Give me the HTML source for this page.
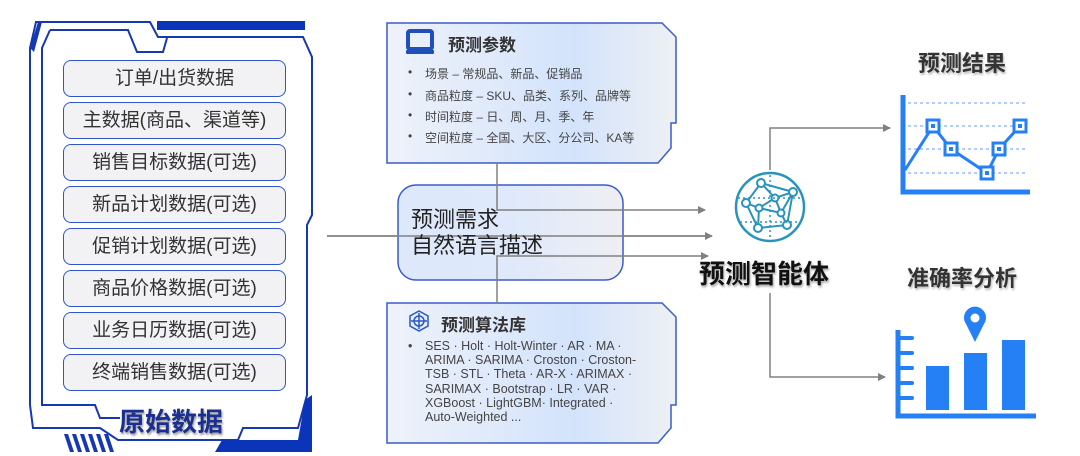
<!DOCTYPE html>
<html><head><meta charset="utf-8"><style>
body{margin:0;width:1080px;height:456px;background:#fff;position:relative;overflow:hidden;font-family:"Liberation Sans","Noto Sans CJK SC",sans-serif;}
.item{position:absolute;left:63px;width:221px;height:35px;border:1.5px solid #3155c8;border-radius:8px;background:#f2f2f4;text-align:center;line-height:35px;font-size:19px;color:#333;}
.abs{position:absolute;}
.bl{position:absolute;left:408px;font-size:12px;color:#444;}
.bl span{position:absolute;left:17px;white-space:nowrap;}
</style></head><body>
<svg class="abs" style="left:0;top:0" width="1080" height="456">
<defs>
<linearGradient id="g1" x1="0" x2="1" y1="0" y2="0"><stop offset="0" stop-color="#eef2fa"/><stop offset="0.65" stop-color="#d3e3fb"/><stop offset="1" stop-color="#eef0f4"/></linearGradient>
<linearGradient id="g2" x1="0" x2="1" y1="0" y2="0"><stop offset="0" stop-color="#dde8fb"/><stop offset="0.5" stop-color="#dfe9fb"/><stop offset="1" stop-color="#eeeff3"/></linearGradient>
<marker id="ar" markerWidth="8" markerHeight="8" refX="7" refY="4" orient="auto" markerUnits="userSpaceOnUse"><path d="M0,0 L8,4 L0,8 Z" fill="#808080"/></marker>
</defs>
<!-- left frame -->
<path d="M36,22 L150,22 L158,37 L303,37 L312,57 L312,215 L307,225 L307,395 L298,428 L243,428 L238,440 L118,440 L100,428 L33,428 L30,405 L30,48 Z" fill="none" stroke="#1638b0" stroke-width="2"/>
<path d="M50,30 L128,30 L137,52 L163,52 L167,38" fill="none" stroke="#1638b0" stroke-width="2"/>
<path d="M50,30 L42,48 L42,405 L95,405 L100,418 L120,418" fill="none" stroke="#1638b0" stroke-width="2"/>
<path d="M30,48 L38,22 L42,22 L34,52 Z" fill="#1638b0"/>
<rect x="157" y="21" width="148" height="9" fill="#0b35b8"/>
<path d="M305,400 L312,395 L312,452 L215,452 L222,440 L298,440 Z" fill="#0b35b8"/>
<g fill="#1638b0"><path d="M64,434 L68,434 L74,452 L70,452Z"/><path d="M72,434 L76,434 L82,452 L78,452Z"/><path d="M80,434 L84,434 L90,452 L86,452Z"/><path d="M88,434 L92,434 L98,452 L94,452Z"/><path d="M96,434 L100,434 L106,452 L102,452Z"/><path d="M104,434 L108,434 L114,452 L110,452Z"/></g>
<!-- connectors -->
<line x1="327" y1="236" x2="712" y2="236" stroke="#808080" stroke-width="1.5" marker-end="url(#ar)"/>
<!-- top box -->
<path d="M387,23 L662,23 L676,37 L676,123 L671,123 L671,148 L658,163 L387,163 Z" fill="url(#g1)" stroke="#3a5ccc" stroke-width="1.5"/>
<!-- bottom box -->
<path d="M387,303 L662,303 L676,317 L676,405 L671,405 L671,428 L658,443 L387,443 Z" fill="url(#g1)" stroke="#3a5ccc" stroke-width="1.5"/>
<!-- middle -->
<rect x="398" y="185" width="225" height="95" rx="18" fill="url(#g2)" stroke="#3a5ccc" stroke-width="1.5"/>
<line x1="327" y1="236" x2="712" y2="236" stroke="#808080" stroke-width="1.5"/>
<polyline points="497,163 497,210 705,210" fill="none" stroke="#808080" stroke-width="1.5" marker-end="url(#ar)"/>
<polyline points="497,303 497,256 708,256" fill="none" stroke="#808080" stroke-width="1.5" marker-end="url(#ar)"/>
<!-- top icon monitor -->
<rect x="408" y="31" width="24" height="18" rx="2" fill="none" stroke="#1f4fb8" stroke-width="4"/>
<rect x="406" y="50" width="28" height="4" rx="1" fill="#1f4fb8"/>
<!-- algorithm icon -->
<g stroke="#2858c8" stroke-width="1.5" fill="none"><polygon points="419,311 428,316 428,326 419,331 410,326 410,316"/><circle cx="419" cy="321" r="5"/><line x1="419" y1="313" x2="419" y2="329"/><line x1="411" y1="321" x2="427" y2="321"/></g>
<!-- agent -->
<circle cx="770" cy="207" r="34" fill="none" stroke="#2a93bb" stroke-width="2.5"/>
<g stroke="#2a93bb" stroke-width="2" fill="#fff">
<path d="M761,183 L746,203 L758,228 L787,225 L793,192 Z M761,183 L775,198 L793,192 M775,198 L759,208 L746,203 M759,208 L758,228 M775,198 L781,213 L759,208 M781,213 L787,225 M781,213 L793,192 M761,183 L793,192" fill="none"/>
<circle cx="761" cy="183" r="4"/><circle cx="746" cy="203" r="4"/><circle cx="775" cy="198" r="3.5"/><circle cx="793" cy="192" r="4"/><circle cx="759" cy="208" r="3.5"/><circle cx="781" cy="213" r="3.5"/><circle cx="787" cy="225" r="4"/><circle cx="758" cy="228" r="4"/>
</g>
<g stroke="#2a93bb" stroke-width="1.5" stroke-dasharray="2,3"><line x1="770" y1="175" x2="770" y2="240"/><line x1="738" y1="198" x2="802" y2="198"/><line x1="740" y1="222" x2="800" y2="222"/></g>
<polyline points="770,170 770,128 890,128" fill="none" stroke="#808080" stroke-width="1.5" marker-end="url(#ar)"/>
<polyline points="770,293 770,377 885,377" fill="none" stroke="#808080" stroke-width="1.5" marker-end="url(#ar)"/>
<!-- chart1 -->
<g stroke="#7fb0ff" stroke-width="1.2" stroke-dasharray="3,3"><line x1="908" y1="103" x2="1027" y2="103"/><line x1="908" y1="126" x2="1027" y2="126"/><line x1="908" y1="149" x2="1027" y2="149"/><line x1="908" y1="173" x2="1027" y2="173"/></g>
<polyline points="903,95 903,192 1030,192" fill="none" stroke="#2680f5" stroke-width="5"/>
<polyline points="905,170 933,126 951,149 987,173 999,149 1020,126" fill="none" stroke="#2680f5" stroke-width="3"/>
<g fill="#fff" stroke="#2680f5" stroke-width="3"><rect x="927" y="120" width="12" height="12"/><rect x="945" y="143" width="12" height="12"/><rect x="981" y="167" width="12" height="12"/><rect x="993" y="143" width="12" height="12"/><rect x="1014" y="120" width="12" height="12"/></g>
<g fill="#2680f5"><rect x="931" y="124" width="4" height="4"/><rect x="949" y="147" width="4" height="4"/><rect x="985" y="171" width="4" height="4"/><rect x="997" y="147" width="4" height="4"/><rect x="1018" y="124" width="4" height="4"/></g>
<!-- chart2 -->
<polyline points="898,330 898,416 1036,416" fill="none" stroke="#2680f5" stroke-width="5"/>
<g stroke="#2680f5" stroke-width="4" stroke-linecap="round"><line x1="900" y1="338" x2="912" y2="338"/><line x1="900" y1="353" x2="912" y2="353"/><line x1="900" y1="368" x2="912" y2="368"/><line x1="900" y1="383" x2="912" y2="383"/><line x1="900" y1="398" x2="912" y2="398"/></g>
<g fill="#2680f5"><rect x="926" y="366" width="23" height="44"/><rect x="964" y="353" width="23" height="57"/><rect x="1002" y="340" width="23" height="70"/>
<path d="M975,342 L966,324 A11,11 0 1 1 984,324 Z"/></g>
<circle cx="975" cy="318" r="4.5" fill="#fff"/>
</svg>

<div class="item" style="top:60px">订单/出货数据</div>
<div class="item" style="top:102px">主数据(商品、渠道等)</div>
<div class="item" style="top:144px">销售目标数据(可选)</div>
<div class="item" style="top:186px">新品计划数据(可选)</div>
<div class="item" style="top:228px">促销计划数据(可选)</div>
<div class="item" style="top:270px">商品价格数据(可选)</div>
<div class="item" style="top:312px">业务日历数据(可选)</div>
<div class="item" style="top:354px">终端销售数据(可选)</div>
<div class="abs" style="left:119px;top:402px;font-size:26px;font-weight:bold;color:#1a2f8f;text-shadow:1px 2px 2px #999;">原始数据</div>

<div class="abs" style="left:448px;top:31px;font-size:17px;font-weight:bold;color:#333;">预测参数</div>
<div class="bl" style="top:65px">•<span>场景 – 常规品、新品、促销品</span></div>
<div class="bl" style="top:87px">•<span>商品粒度 – SKU、品类、系列、品牌等</span></div>
<div class="bl" style="top:108px">•<span>时间粒度 – 日、周、月、季、年</span></div>
<div class="bl" style="top:129px">•<span>空间粒度 – 全国、大区、分公司、KA等</span></div>

<div class="abs" style="left:411px;top:207px;font-size:22px;line-height:26px;color:#222;">预测需求<br>自然语言描述</div>

<div class="abs" style="left:441px;top:311px;font-size:17px;font-weight:bold;color:#333;">预测算法库</div>
<div class="bl" style="top:339px;font-size:12.5px;line-height:14.2px;">•<span style="top:0">SES · Holt · Holt-Winter · AR · MA ·<br>ARIMA · SARIMA · Croston · Croston-<br>TSB · STL · Theta · AR-X · ARIMAX ·<br>SARIMAX · Bootstrap · LR · VAR ·<br>XGBoost · LightGBM· Integrated ·<br>Auto-Weighted ...</span></div>

<div class="abs" style="left:699px;top:254px;font-size:26px;font-weight:bold;color:#111;text-shadow:1px 2px 2px #aaa;">预测智能体</div>
<div class="abs" style="left:918px;top:46px;font-size:22px;font-weight:bold;color:#333;text-shadow:1px 2px 2px #bbb;">预测结果</div>
<div class="abs" style="left:907px;top:261px;font-size:22px;font-weight:bold;color:#333;text-shadow:1px 2px 2px #bbb;">准确率分析</div>
</body></html>
